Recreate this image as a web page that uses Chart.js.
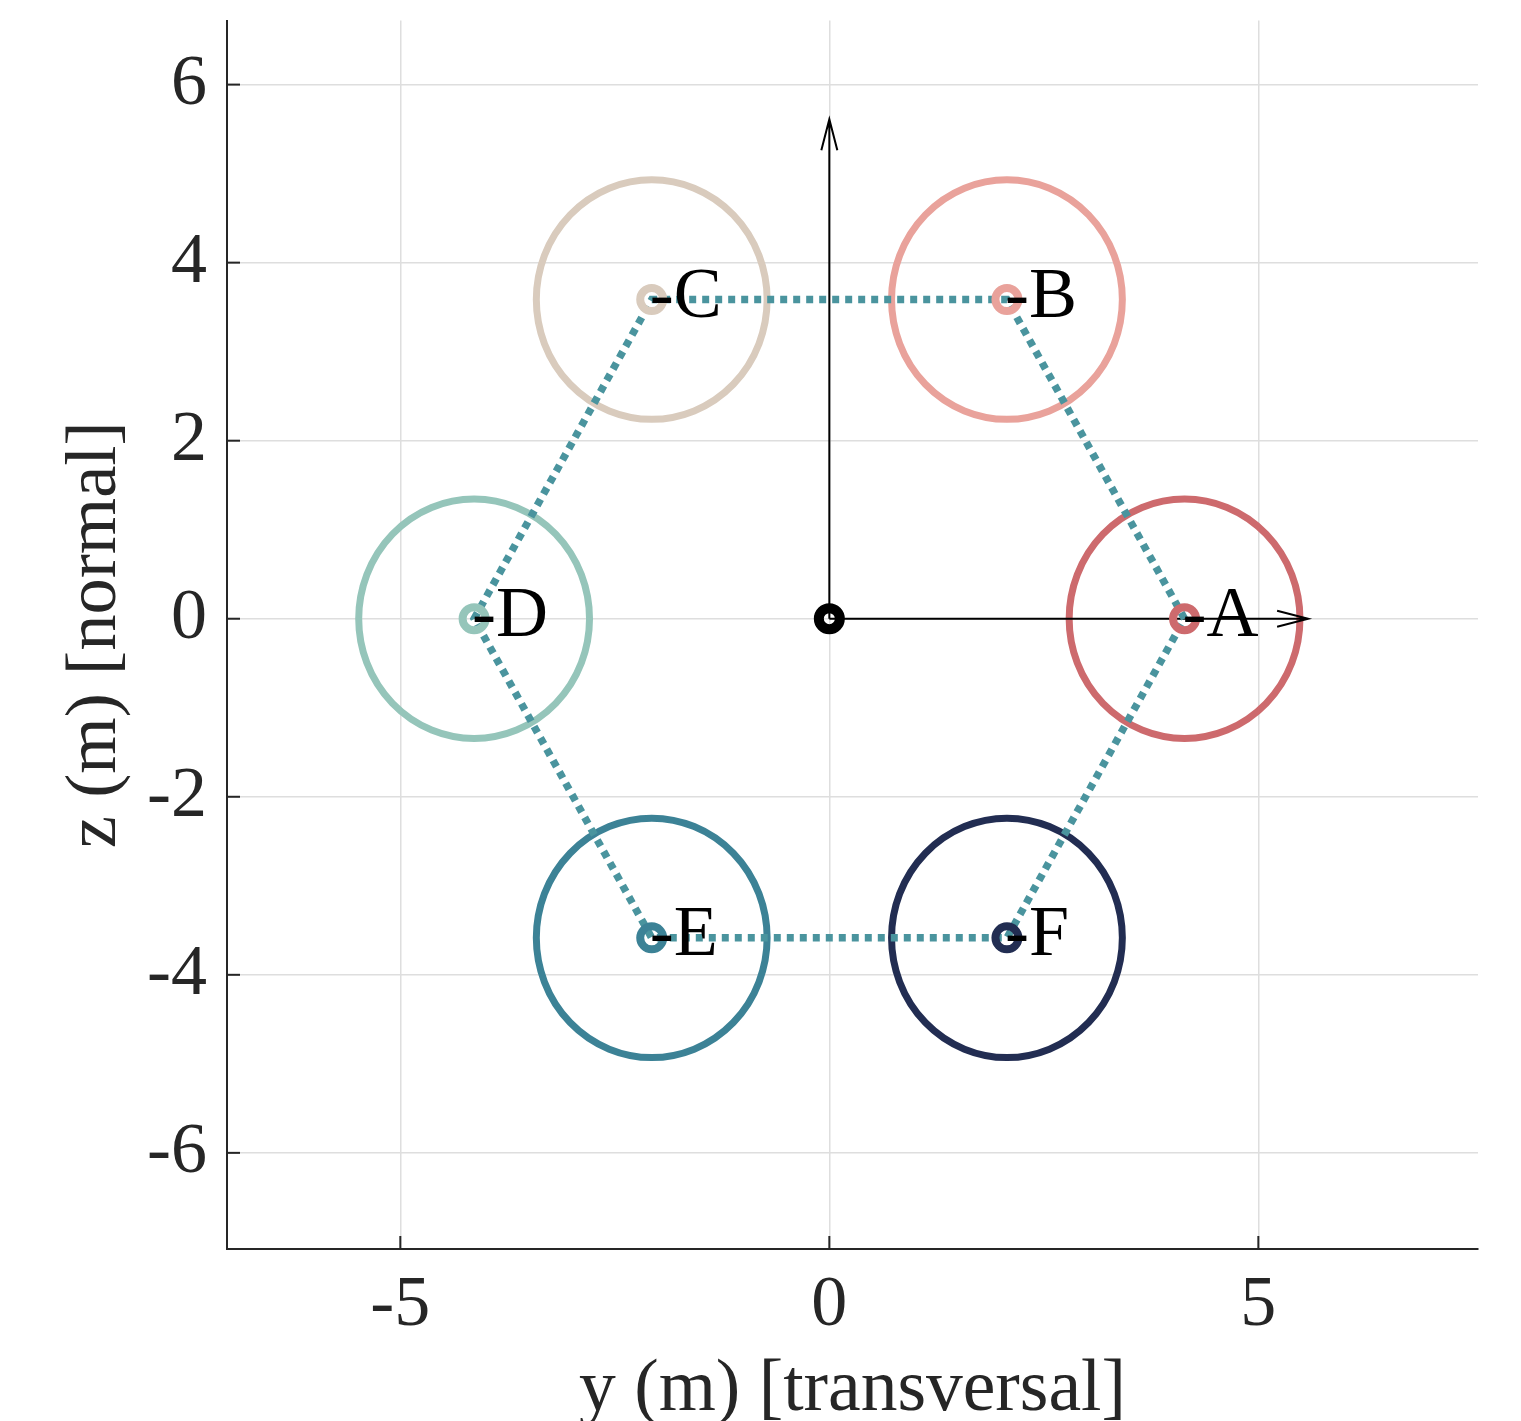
<!DOCTYPE html>
<html>
<head>
<meta charset="utf-8">
<script src="https://cdn.jsdelivr.net/npm/chart.js@4.4.1/dist/chart.umd.min.js"></script>
<style>
  html, body { margin: 0; padding: 0; background: #fff; }
</style>
</head>
<body>
<canvas id="myChart" width="1521" height="1421"></canvas>
<script>
// conductor positions (y transversal, z normal)
const names = ['A', 'B', 'C', 'D', 'E', 'F'];
const posY = [4.14, 2.07, -2.07, -4.14, -2.07, 2.07];
const posZ = [0, 3.585, 3.585, 0, -3.585, -3.585];
const ringRadius = [1.345, 1.345, 1.345, 1.345, 1.345, 1.345];
const colors = ['#cd6a6d', '#e9a29b', '#d9cbbd', '#95c5ba', '#3c8296', '#222d52'];

// axis arrows from the origin
const arrowDy = [5.58, 0];
const arrowDz = [0, 5.61];

const xTicks = [-5, 0, 5];
const yTicks = [-6, -4, -2, 0, 2, 4, 6];

const serif = 'Liberation Serif';
const axisColor = '#262626';

const points = names.map((n, i) => ({ x: posY[i], y: posZ[i] }));
const hexagon = points.concat([points[0]]);

const extras = {
  id: 'extras',
  beforeDatasetsDraw(chart) {
    const { ctx, scales: { x, y } } = chart;
    ctx.save();

    // inward ticks
    ctx.strokeStyle = axisColor;
    ctx.lineWidth = 2;
    xTicks.forEach(v => {
      const px = x.getPixelForValue(v);
      ctx.beginPath();
      ctx.moveTo(px, y.bottom);
      ctx.lineTo(px, y.bottom - 13);
      ctx.stroke();
    });
    yTicks.forEach(v => {
      const py = y.getPixelForValue(v);
      ctx.beginPath();
      ctx.moveTo(x.left, py);
      ctx.lineTo(x.left + 13, py);
      ctx.stroke();
    });

    // rings
    names.forEach((n, i) => {
      const cx = x.getPixelForValue(posY[i]);
      const cy = y.getPixelForValue(posZ[i]);
      const rx = Math.abs(x.getPixelForValue(posY[i] + ringRadius[i]) - cx);
      const ry = Math.abs(y.getPixelForValue(posZ[i] + ringRadius[i]) - cy);
      ctx.beginPath();
      ctx.ellipse(cx, cy, rx, ry, 0, 0, Math.PI * 2);
      ctx.strokeStyle = colors[i];
      ctx.lineWidth = 7;
      ctx.stroke();
    });

    // arrows
    const ox = x.getPixelForValue(0);
    const oy = y.getPixelForValue(0);
    ctx.strokeStyle = '#000';
    ctx.lineWidth = 2;
    arrowDy.forEach((d, i) => {
      const tx = x.getPixelForValue(d);
      const ty = y.getPixelForValue(arrowDz[i]);
      const len = Math.hypot(tx - ox, ty - oy);
      const ux = (tx - ox) / len, uy = (ty - oy) / len;
      ctx.beginPath();
      ctx.moveTo(ox, oy);
      ctx.lineTo(tx, ty);
      ctx.moveTo(tx - ux * 31 - uy * 8, ty - uy * 31 + ux * 8);
      ctx.lineTo(tx, ty);
      ctx.lineTo(tx - ux * 31 + uy * 8, ty - uy * 31 - ux * 8);
      ctx.stroke();
    });
    ctx.restore();
  },
  afterDatasetsDraw(chart) {
    const { ctx, scales: { x, y } } = chart;
    ctx.save();
    ctx.fillStyle = '#000';
    ctx.font = '72px "' + serif + '"';
    ctx.textAlign = 'left';
    ctx.textBaseline = 'alphabetic';
    names.forEach((n, i) => {
      const px = x.getPixelForValue(posY[i]);
      const py = y.getPixelForValue(posZ[i]);
      ctx.fillText('-' + n, px - 2, py + 17);
    });
    ctx.restore();
  }
};

const ctx = document.getElementById('myChart').getContext('2d');

new Chart(ctx, {
  type: 'scatter',
  data: {
    datasets: [
      {
        label: 'origin',
        data: [{ x: 0, y: 0 }],
        pointRadius: 10.5,
        pointBorderWidth: 10,
        pointBorderColor: '#000',
        pointBackgroundColor: 'rgba(0,0,0,0)',
        order: 0
      },
      {
        label: 'conductors',
        data: points,
        pointRadius: 11.5,
        pointBorderWidth: 8,
        pointBorderColor: colors,
        pointBackgroundColor: 'rgba(0,0,0,0)',
        order: 1
      },
      {
        label: 'outline',
        data: hexagon,
        showLine: true,
        borderColor: '#4a949e',
        borderWidth: 7.5,
        borderDash: [7, 6],
        pointRadius: 0,
        order: 2
      }
    ]
  },
  options: {
    responsive: false,
    animation: false,
    layout: { padding: { top: 20, right: 43, left: 0, bottom: 0 } },
    plugins: {
      legend: { display: false },
      tooltip: { enabled: false }
    },
    scales: {
      x: {
        type: 'linear',
        min: -7.02,
        max: 7.56,
        afterBuildTicks: s => { s.ticks = xTicks.map(v => ({ value: v })); },
        afterFit: s => { s.height = 172; s.paddingLeft = 0; s.paddingRight = 0; },
        grid: { color: '#dedede', lineWidth: 1.5, drawTicks: false },
        border: { color: axisColor, width: 2 },
        ticks: {
          padding: 14,
          color: axisColor,
          font: { family: serif, size: 72, lineHeight: 1.2 }
        },
        title: {
          display: true,
          text: 'y (m) [transversal]',
          color: axisColor,
          font: { family: serif, size: 73.5, lineHeight: 1 },
          padding: { top: 0, bottom: -6 }
        }
      },
      y: {
        type: 'linear',
        min: -7.08,
        max: 6.72,
        afterBuildTicks: s => { s.ticks = yTicks.map(v => ({ value: v })); },
        afterFit: s => { s.width = 227; s.paddingTop = 0; s.paddingBottom = 0; },
        grid: { color: '#dedede', lineWidth: 1.5, drawTicks: false },
        border: { color: axisColor, width: 2 },
        ticks: {
          padding: 20,
          color: axisColor,
          font: { family: serif, size: 72, lineHeight: 1.2 }
        },
        title: {
          display: true,
          text: 'z (m) [normal]',
          color: axisColor,
          font: { family: serif, size: 72.5, lineHeight: 1 },
          padding: { top: 60, bottom: 0 }
        }
      }
    }
  },
  plugins: [extras]
});
</script>
</body>
</html>
